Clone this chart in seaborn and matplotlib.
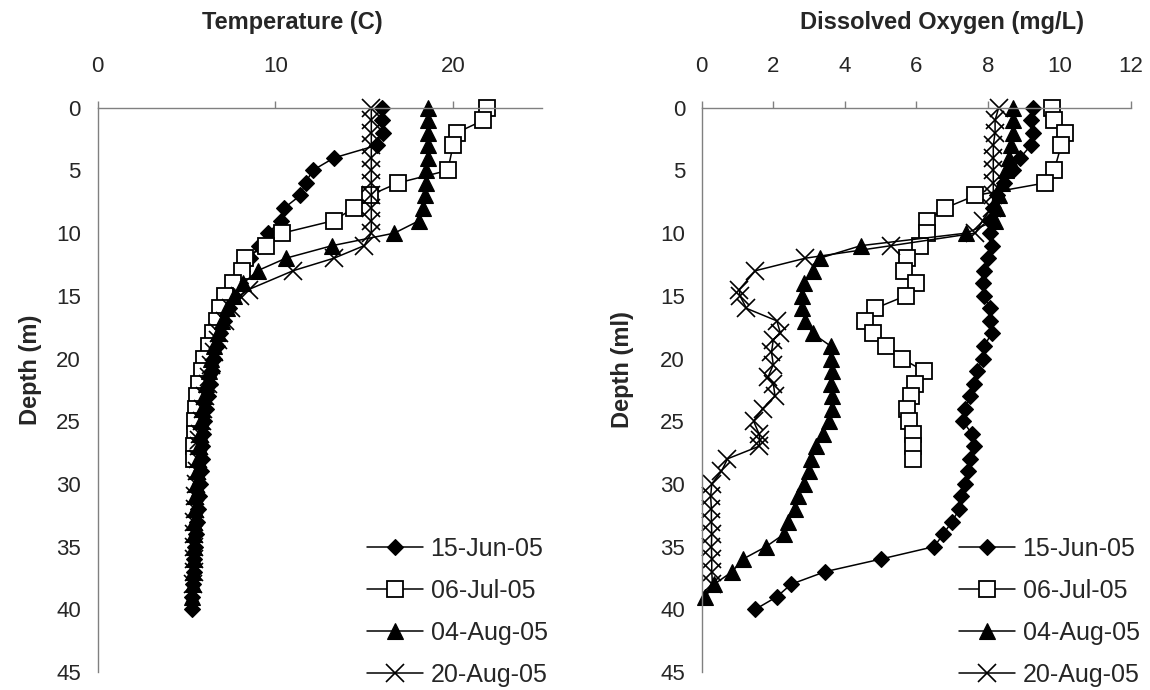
import pandas as pd
import seaborn as sns
import matplotlib
matplotlib.use("Agg")
import matplotlib.pyplot as plt

# ------------------------------------
# Datos (perfiles de profundidad)
# ------------------------------------
dates = ["15-Jun-05", "06-Jul-05", "04-Aug-05", "20-Aug-05"]

# 15-Jun-05
depth_jun15 = list(range(0, 41))
temp_jun15 = [16.0, 16.0, 16.05, 15.7, 13.3, 12.1, 11.7, 11.4, 10.5, 10.3,
              9.6, 9.1, 8.6, 8.1, 8.0, 7.7, 7.4, 7.1, 6.9, 6.7,
              6.55, 6.45, 6.35, 6.2, 6.1, 6.0, 5.95, 5.9, 5.85, 5.8,
              5.75, 5.7, 5.65, 5.6, 5.55, 5.5, 5.45, 5.4, 5.35, 5.3, 5.3]
do_jun15 = [9.25, 9.2, 9.25, 9.2, 8.9, 8.7, 8.45, 8.25, 8.15, 8.05,
            8.05, 8.1, 8.0, 7.9, 7.85, 7.9, 8.05, 8.05, 8.1, 7.9,
            7.85, 7.7, 7.6, 7.5, 7.35, 7.3, 7.55, 7.6, 7.5, 7.45,
            7.35, 7.25, 7.2, 7.0, 6.75, 6.5, 5.0, 3.45, 2.5, 2.1, 1.5]

# 06-Jul-05 (sin dato a 4 m)
depth_jul06 = [0, 1, 2, 3] + list(range(5, 29))
temp_jul06 = [21.9, 21.7, 20.2, 20.0, 19.7, 16.9, 15.3, 14.4, 13.3, 10.4,
              9.45, 8.3, 8.1, 7.6, 7.15, 6.9, 6.7, 6.5, 6.25, 6.0,
              5.85, 5.7, 5.6, 5.55, 5.5, 5.5, 5.45, 5.45]
do_jul06 = [9.8, 9.85, 10.15, 10.05, 9.85, 9.6, 7.65, 6.8, 6.3, 6.3,
            6.1, 5.75, 5.65, 6.0, 5.7, 4.85, 4.55, 4.8, 5.15, 5.6,
            6.2, 5.95, 5.85, 5.75, 5.8, 5.9, 5.9, 5.9]

# 04-Aug-05
depth_aug04 = list(range(0, 40))
temp_aug04 = [18.6, 18.6, 18.6, 18.6, 18.6, 18.5, 18.5, 18.4, 18.3, 18.1,
              16.7, 13.2, 10.6, 9.0, 8.2, 7.7, 7.3, 7.0, 6.75, 6.55,
              6.4, 6.25, 6.1, 6.0, 5.9, 5.8, 5.75, 5.7, 5.65, 5.6,
              5.55, 5.5, 5.5, 5.45, 5.45, 5.4, 5.4, 5.35, 5.35, 5.3]
do_aug04 = [8.7, 8.7, 8.7, 8.65, 8.6, 8.5, 8.4, 8.3, 8.25, 8.2,
            7.4, 4.45, 3.3, 3.1, 2.85, 2.8, 2.8, 2.9, 3.1, 3.6,
            3.6, 3.65, 3.6, 3.65, 3.65, 3.55, 3.4, 3.2, 3.05, 3.0,
            2.85, 2.7, 2.6, 2.4, 2.3, 1.8, 1.15, 0.85, 0.35, 0.1]

# 20-Aug-05
depth_aug20 = [0, 1, 2, 3, 4, 5, 6, 7, 8, 9, 10, 11, 12, 13,
               14.5, 15, 16, 17, 18, 18.5, 19.5, 20.5, 21.5, 22, 23, 24, 25, 26,
               26.5, 27, 28, 29, 30, 31, 32, 33, 34, 35, 36, 37, 38]
temp_aug20 = [15.4, 15.4, 15.4, 15.4, 15.4, 15.4, 15.4, 15.4, 15.4, 15.4,
              15.4, 15.0, 13.3, 11.0, 8.5, 8.0, 7.5, 7.15, 6.85, 6.75,
              6.55, 6.4, 6.25, 6.2, 6.05, 5.95, 5.85, 5.75, 5.7, 5.7,
              5.65, 5.6, 5.55, 5.5, 5.5, 5.45, 5.45, 5.4, 5.4, 5.4, 5.35]
do_aug20 = [8.3, 8.2, 8.2, 8.15, 8.15, 8.15, 8.15, 8.15, 8.1, 7.85,
            7.65, 5.3, 2.9, 1.5, 1.05, 1.07, 1.25, 2.1, 2.2, 2.0,
            1.95, 2.0, 1.85, 2.0, 2.05, 1.7, 1.45, 1.6, 1.63, 1.6,
            0.72, 0.55, 0.28, 0.25, 0.27, 0.27, 0.28, 0.27, 0.28, 0.28, 0.3]

perfiles = {
    "15-Jun-05": (depth_jun15, temp_jun15, do_jun15),
    "06-Jul-05": (depth_jul06, temp_jul06, do_jul06),
    "04-Aug-05": (depth_aug04, temp_aug04, do_aug04),
    "20-Aug-05": (depth_aug20, temp_aug20, do_aug20),
}

estilos = {
    "15-Jun-05": dict(marker="D", markersize=8.5, markerfacecolor="black",
                      markeredgecolor="black", markeredgewidth=0.8),
    "06-Jul-05": dict(marker="s", markersize=11, markerfacecolor="white",
                      markeredgecolor="black", markeredgewidth=1.3),
    "04-Aug-05": dict(marker="^", markersize=12, markerfacecolor="black",
                      markeredgecolor="black", markeredgewidth=0.8),
    "20-Aug-05": dict(marker="x", markersize=13, markeredgecolor="black",
                      markeredgewidth=1.2),
}

# ------------------------------------
# Estilo general
# ------------------------------------
sns.set_style("white")
plt.rcParams["font.family"] = ["Liberation Sans", "DejaVu Sans"]

fig = plt.figure(figsize=(11.5, 6.9), dpi=100)
ax1 = fig.add_axes([0.0848, 0.0261, 0.3865, 0.8178])
ax2 = fig.add_axes([0.6102, 0.0261, 0.3733, 0.8178])

for fecha in dates:
    depth, temp, do = perfiles[fecha]
    df = pd.DataFrame({"depth": depth, "temp": temp, "do": do})
    for ax, col in [(ax1, "temp"), (ax2, "do")]:
        sns.lineplot(data=df, x=col, y="depth", ax=ax, sort=False,
                     estimator=None, color="black", linewidth=1.1,
                     clip_on=False, label=fecha, **estilos[fecha])


def formato(ax, xmax, xticks):
    ax.set_xlim(0, xmax)
    ax.set_ylim(45, 0)
    ax.set_xticks(xticks)
    ax.set_yticks(range(0, 50, 5))
    ax.xaxis.tick_top()
    ax.set_xlabel("")
    ax.set_ylabel("")
    for s in ["right", "bottom"]:
        ax.spines[s].set_visible(False)
    for s in ["left", "top"]:
        ax.spines[s].set_color("#808080")
        ax.spines[s].set_linewidth(1.0)
    ax.tick_params(axis="x", direction="out", length=5, width=1,
                   color="#808080", labelsize=16, pad=17)
    ax.tick_params(axis="y", direction="out", length=5, width=1,
                   color="#808080", labelsize=16, pad=7)
    if ax.get_legend() is not None:
        ax.get_legend().remove()


formato(ax1, 25, [0, 10, 20])
formato(ax2, 12, range(0, 13, 2))

# Titulos y etiquetas
fig.text(292 / 1150, 1 - 22 / 690, "Temperature (C)", ha="center", va="center",
         fontsize=17, fontweight="bold")
fig.text(942 / 1150, 1 - 22 / 690, "Dissolved Oxygen (mg/L)", ha="center",
         va="center", fontsize=17, fontweight="bold")
fig.text(30 / 1150, 1 - 370 / 690, "Depth (m)", rotation=90, ha="center",
         va="center", fontsize=17, fontweight="bold")
fig.text(622 / 1150, 1 - 370 / 690, "Depth (ml)", rotation=90, ha="center",
         va="center", fontsize=17, fontweight="bold")

# Leyendas
for ax, x0 in [(ax1, 367 / 1150), (ax2, 959 / 1150)]:
    handles = ax.get_lines()[:4]
    fig.legend(handles, dates, loc="upper left", bbox_to_anchor=(x0, 0.222),
               frameon=False, fontsize=18, handlelength=2.24,
               handletextpad=0.3, labelspacing=0.72, borderpad=0,
               borderaxespad=0, numpoints=1)

fig.savefig("out.png", dpi=100)
